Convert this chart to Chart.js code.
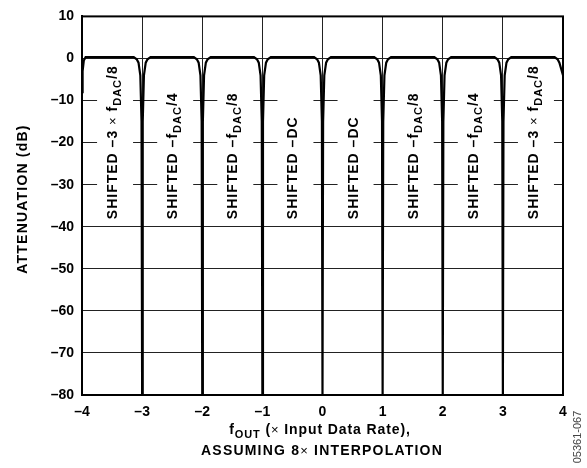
<!DOCTYPE html>
<html>
<head>
<meta charset="utf-8">
<script src="https://cdn.jsdelivr.net/npm/chart.js@4.4.1/dist/chart.umd.min.js"></script>
<style>
  body { margin: 0; background: #fff; }
  canvas { display: block; }
</style>
</head>
<body>
<canvas id="grafico" width="587" height="468"></canvas>
<script>
// curve, one row per band
const freqOut = [
  -4.00, -3.99, -3.97, -3.94, -3.86, -3.50, -3.14, -3.09, -3.06, -3.03, -3.01,
  -3.00, -2.99, -2.97, -2.94, -2.91, -2.86, -2.50, -2.14, -2.09, -2.06, -2.03, -2.01,
  -2.00, -1.99, -1.97, -1.94, -1.91, -1.86, -1.50, -1.14, -1.09, -1.06, -1.03, -1.01,
  -1.00, -0.99, -0.97, -0.94, -0.91, -0.86, -0.50, -0.14, -0.09, -0.06, -0.03, -0.01,
   0.00,  0.01,  0.03,  0.06,  0.09,  0.14,  0.50,  0.86,  0.91,  0.94,  0.97,  0.99,
   1.00,  1.01,  1.03,  1.06,  1.09,  1.14,  1.50,  1.86,  1.91,  1.94,  1.97,  1.99,
   2.00,  2.01,  2.03,  2.06,  2.09,  2.14,  2.50,  2.86,  2.91,  2.94,  2.97,  2.99,
   3.00,  3.01,  3.03,  3.06,  3.09,  3.14,  3.50,  3.86,  3.91,  3.94,  3.97,  3.99,  4.00
];
const attenDb = [
   -8,  -3, -0.5, 0.3, 0.3, 0.3, 0.3, -0.2, -1, -4, -15,
  -80, -15, -4, -1, -0.2, 0.3, 0.3, 0.3, -0.2, -1, -4, -15,
  -80, -15, -4, -1, -0.2, 0.3, 0.3, 0.3, -0.2, -1, -4, -15,
  -80, -15, -4, -1, -0.2, 0.3, 0.3, 0.3, -0.2, -1, -4, -15,
  -80, -15, -4, -1, -0.2, 0.3, 0.3, 0.3, -0.2, -1, -4, -15,
  -80, -15, -4, -1, -0.2, 0.3, 0.3, 0.3, -0.2, -1, -4, -15,
  -80, -15, -4, -1, -0.2, 0.3, 0.3, 0.3, -0.2, -1, -4, -15,
  -80, -15, -4, -1, -0.2, 0.3, 0.3, 0.3, -0.2, -1, -2.5, -3.5, -4
];

// labels inside each band (band starts at -4, -3, ... 3)
const bandStarts = [-4, -3, -2, -1, 0, 1, 2, 3];
const bandLabels = [
  'SHIFTED –3 × f_DAC/8',
  'SHIFTED –f_DAC/4',
  'SHIFTED –f_DAC/8',
  'SHIFTED –DC',
  'SHIFTED –DC',
  'SHIFTED –f_DAC/8',
  'SHIFTED –f_DAC/4',
  'SHIFTED –3 × f_DAC/8'
];

const yTitle = 'ATTENUATION (dB)';
const xTitle1 = ['f', '_OUT', ' (', '×', ' Input Data Rate),'];
const xTitle2 = ['ASSUMING 8', '×', ' INTERPOLATION'];
const figId = '05361-067';

const FONT = '"Liberation Sans", Arial, Helvetica, sans-serif';
const dash = v => String(v).replace('-', '–');

// cuts a text into pieces: normal weight for ×, subscript for _XXX
function pieces(parts, size) {
  const out = [];
  parts.forEach(p => {
    if (p.startsWith('_')) {
      out.push({ t: p.slice(1), font: 'bold ' + (size - 3) + 'px ' + FONT, dy: 4 });
    } else if (p === '×') {
      out.push({ t: p, font: (size - 1) + 'px ' + FONT, dy: 0 });
    } else {
      out.push({ t: p, font: 'bold ' + size + 'px ' + FONT, dy: 0 });
    }
  });
  return out;
}

function splitLabel(txt) {
  // 'SHIFTED –3 × f_DAC/8' -> ['SHIFTED –3 ', '×', ' f', '_DAC', '/8']
  const res = [];
  txt.split(/(×|_DAC)/).forEach(s => { if (s !== '') res.push(s); });
  return res;
}

function widthOf(ctx, list) {
  let w = 0;
  list.forEach(p => { ctx.font = p.font; w += ctx.measureText(p.t).width; });
  return w;
}

function drawPieces(ctx, list, x, y) {
  list.forEach(p => {
    ctx.font = p.font;
    ctx.fillText(p.t, x, y + p.dy);
    x += ctx.measureText(p.t).width;
  });
}

const decoracao = {
  id: 'decoracao',
  beforeDatasetsDraw(chart) {
    const ctx = chart.ctx;
    const xs = chart.scales.x, ys = chart.scales.y;
    ctx.save();
    bandStarts.forEach((b, i) => {
      const cx = xs.getPixelForValue(b + 0.5);
      const top = ys.getPixelForValue(-1.5);
      const bot = ys.getPixelForValue(-39.5);
      ctx.fillStyle = '#fff';
      ctx.fillRect(cx - 15, top, 36, bot - top);

      ctx.save();
      ctx.translate(cx + 5, ys.getPixelForValue(-38.2));
      ctx.rotate(-Math.PI / 2);
      ctx.fillStyle = '#000';
      ctx.textAlign = 'left';
      ctx.textBaseline = 'alphabetic';
      ctx.letterSpacing = '1px';
      drawPieces(ctx, pieces(splitLabel(bandLabels[i]), 14), 0, 0);
      ctx.restore();
    });
    ctx.restore();
  },
  afterDraw(chart) {
    const ctx = chart.ctx;
    const a = chart.chartArea;
    ctx.save();
    ctx.strokeStyle = '#000';
    ctx.lineWidth = 2;
    ctx.strokeRect(a.left, a.top, a.right - a.left, a.bottom - a.top);

    ctx.fillStyle = '#000';
    ctx.textAlign = 'left';
    ctx.textBaseline = 'alphabetic';
    ctx.letterSpacing = '1.2px';

    // y title
    ctx.save();
    ctx.translate(27, 199);
    ctx.rotate(-Math.PI / 2);
    const yp = pieces([yTitle], 14);
    drawPieces(ctx, yp, -widthOf(ctx, yp) / 2, 0);
    ctx.restore();

    // x title, two lines
    ctx.letterSpacing = '0.9px';
    const l1 = pieces(xTitle1, 14);
    drawPieces(ctx, l1, 320 - widthOf(ctx, l1) / 2, 434);
    ctx.letterSpacing = '1.2px';
    const l2 = pieces(xTitle2, 14);
    drawPieces(ctx, l2, 322 - widthOf(ctx, l2) / 2, 455);

    // figure number
    ctx.letterSpacing = '0px';
    ctx.save();
    ctx.translate(581, 437);
    ctx.rotate(-Math.PI / 2);
    ctx.font = '11px ' + FONT;
    ctx.fillStyle = '#444';
    ctx.textAlign = 'center';
    ctx.fillText(figId, 0, 0);
    ctx.restore();
    ctx.restore();
  }
};

const ctx = document.getElementById('grafico').getContext('2d');

new Chart(ctx, {
  type: 'line',
  data: {
    datasets: [{
      data: freqOut.map((f, i) => ({ x: f, y: attenDb[i] })),
      borderColor: '#000',
      borderWidth: 2.2,
      pointRadius: 0,
      tension: 0,
      fill: false
    }]
  },
  options: {
    responsive: false,
    animation: false,
    devicePixelRatio: 1,
    layout: { padding: { top: 12, right: 24, left: 0, bottom: 0 } },
    plugins: {
      legend: { display: false },
      tooltip: { enabled: false }
    },
    scales: {
      x: {
        type: 'linear',
        min: -4,
        max: 4,
        afterFit: s => { s.height = 73; },
        ticks: {
          stepSize: 1,
          padding: 9,
          color: '#000',
          font: { family: FONT, size: 14, weight: 'bold' },
          callback: v => dash(v)
        },
        grid: { color: '#222', lineWidth: 1, drawTicks: false },
        border: { color: '#000', width: 2 }
      },
      y: {
        min: -80,
        max: 10,
        afterFit: s => { s.width = 82; },
        ticks: {
          stepSize: 10,
          padding: 8,
          color: '#000',
          font: { family: FONT, size: 14, weight: 'bold' },
          callback: v => dash(v)
        },
        grid: { color: '#222', lineWidth: 1, drawTicks: false },
        border: { color: '#000', width: 2 }
      }
    }
  },
  plugins: [decoracao]
});
</script>
</body>
</html>
